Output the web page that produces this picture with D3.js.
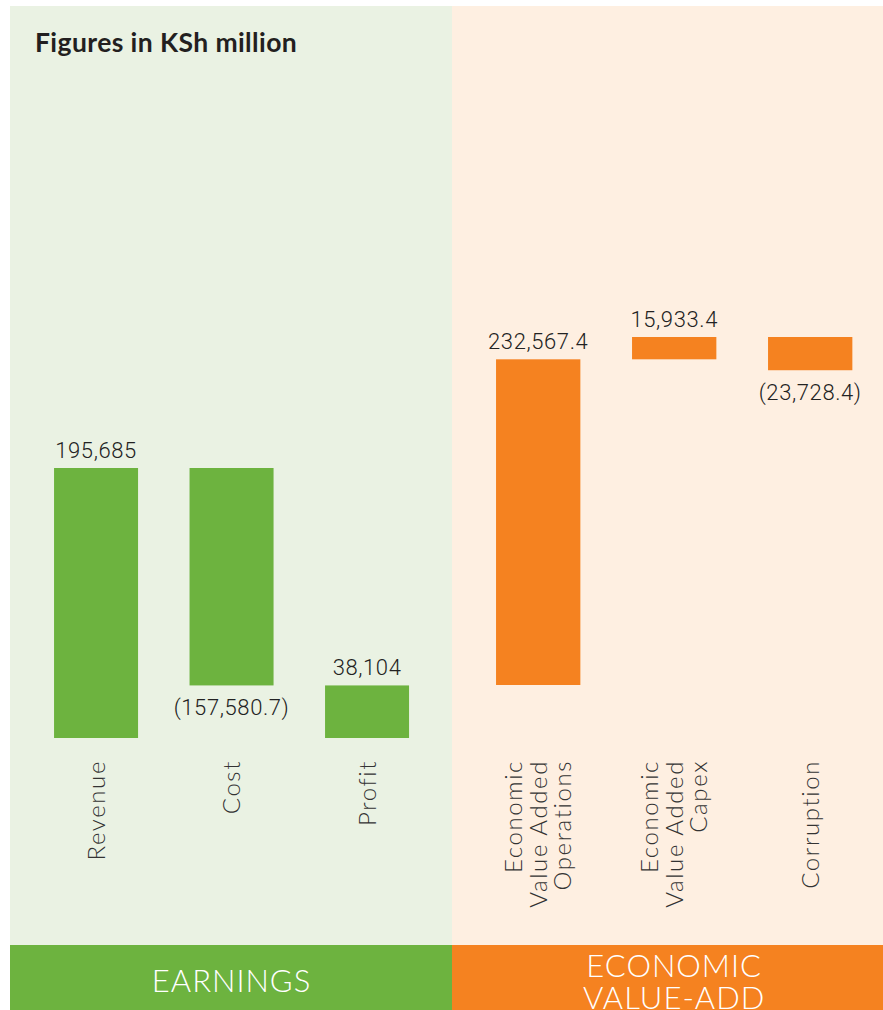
<!DOCTYPE html>
<html>
<head>
<meta charset="utf-8">
<script src="https://cdn.jsdelivr.net/npm/d3@7"></script>
<style>
  body { margin: 0; background: #fff; }
  svg { display: block; }
  .val { font-family: Roboto, sans-serif; font-weight: 300; font-size: 22px; fill: #222; letter-spacing: 0.6px; }
  .cat { font-family: Lato, sans-serif; font-weight: 300; font-size: 24px; fill: #333; letter-spacing: 1.6px; }
  .banner { font-family: Lato, sans-serif; font-weight: 300; font-size: 31px; fill: #fff; letter-spacing: 1px; }
  .title { font-family: Lato, sans-serif; font-weight: 700; font-size: 26.5px; fill: #231f20; letter-spacing: 0.4px; }
</style>
</head>
<body>
<div id="container"></div>
<script>
const W = 883, H = 1010

// earnings panel
const earnCats = ["Revenue", "Cost", "Profit"]
const earnValues = [195685, -157580.7, 38104]
const earnTypes = ["start", "delta", "total"]
const earnLabels = ["195,685", "(157,580.7)", "38,104"]

// economic value-add panel
const evaCats = [["Economic", "Value Added", "Operations"], ["Economic", "Value Added", "Capex"], ["Corruption"]]
const evaValues = [232567.4, 15933.4, -23728.4]
const evaTypes = ["start", "delta", "delta"]
const evaLabels = ["232,567.4", "15,933.4", "(23,728.4)"]

const titleText = "Figures in KSh million"
const banners = [["EARNINGS"], ["ECONOMIC", "VALUE-ADD"]]

const panels = [
    { x0: 10, x1: 452, bg: "#eaf2e3", color: "#6db33f", bandRange: [28.3, 434.8], yRange: [738, 468],
      cats: earnCats, values: earnValues, types: earnTypes, labels: earnLabels, banner: banners[0] },
    { x0: 452, x1: 883, bg: "#feefe1", color: "#f58220", bandRange: [470.2, 878.2], yRange: [685, 337],
      cats: evaCats, values: evaValues, types: evaTypes, labels: evaLabels, banner: banners[1] },
]

const panelTop = 6, bannerTop = 945, catTop = 760, lineGap = 24.5

// running totals for a waterfall
const steps = (values, types) => {
    let cum = 0
    return values.map((v, i) => {
        let s
        if (types[i] == "start") { s = [0, v]; cum = v }
        else if (types[i] == "total") { s = [0, cum] }
        else { s = [cum, cum + v]; cum += v }
        return { lo: Math.min(s[0], s[1]), hi: Math.max(s[0], s[1]), v: v }
    })
}

const svg = d3.select('#container').append('svg').attr('width', W).attr('height', H)

panels.forEach((p, pi) => {
    const g = svg.append('g')
    const data = steps(p.values, p.types)
    const ids = p.values.map((d, i) => i)

    const x = d3.scaleBand().domain(ids).range(p.bandRange).paddingInner(0.38).paddingOuter(0.19)
    const yMax = d3.max(data, d => d.hi)
    const y = d3.scaleLinear().domain([0, yMax]).range(p.yRange)

    g.append('rect')
        .attr('x', p.x0).attr('y', panelTop)
        .attr('width', p.x1 - p.x0).attr('height', bannerTop - panelTop)
        .attr('fill', p.bg)

    g.selectAll('.bar').data(data).join('rect')
        .attr('class', 'bar')
        .attr('x', (d, i) => x(i))
        .attr('width', x.bandwidth())
        .attr('y', d => y(d.hi))
        .attr('height', d => y(d.lo) - y(d.hi))
        .attr('fill', p.color)

    g.selectAll('.val').data(data).join('text')
        .attr('class', 'val')
        .attr('text-anchor', 'middle')
        .attr('x', (d, i) => x(i) + x.bandwidth() / 2)
        .attr('y', d => d.v < 0 ? y(d.lo) + 30 : y(d.hi) - 10)
        .text((d, i) => p.labels[i])

    // rotated category labels
    p.cats.forEach((c, i) => {
        const lines = Array.isArray(c) ? c : [c]
        const cx = x(i) + x.bandwidth() / 2
        lines.forEach((ln, j) => {
            const bx = cx - (lines.length - 1) / 2 * lineGap + j * lineGap + 8.5
            g.append('text')
                .attr('class', 'cat')
                .attr('text-anchor', 'end')
                .attr('transform', 'translate(' + bx + ',' + catTop + ') rotate(-90)')
                .text(ln)
        })
    })

    g.append('rect')
        .attr('x', p.x0).attr('y', bannerTop)
        .attr('width', p.x1 - p.x0).attr('height', H - bannerTop)
        .attr('fill', p.color)

    const mid = (p.bandRange[0] + p.bandRange[1]) / 2
    const bl = p.banner.length == 1 ? [992] : [977, 1009]
    p.banner.forEach((t, j) => {
        g.append('text')
            .attr('class', 'banner')
            .attr('text-anchor', 'middle')
            .attr('x', mid).attr('y', bl[j])
            .text(t)
    })
})

svg.append('text')
    .attr('class', 'title')
    .attr('x', 35).attr('y', 52)
    .text(titleText)
</script>
</body>
</html>
